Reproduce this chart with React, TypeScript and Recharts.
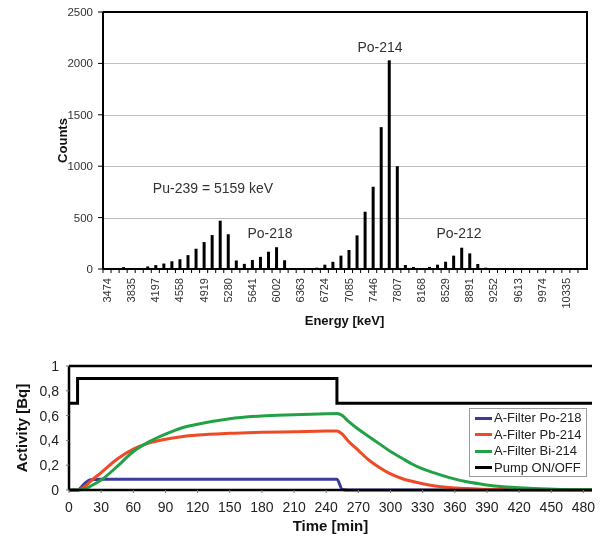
import {
  BarChart,
  Bar,
  LineChart,
  Line,
  XAxis,
  YAxis,
  ReferenceLine,
  Legend,
  Label,
} from 'recharts';

const FONT = '"Liberation Sans", Arial, sans-serif';

// --- alpha spectrum (top) ---
const energyTickLabels = [
  '3474', '3835', '4197', '4558', '4919', '5280', '5641', '6002', '6363', '6724',
  '7085', '7446', '7807', '8168', '8529', '8891', '9252', '9613', '9974', '10335',
];

// one bin every third of a labelled step (60 bins)
const spectrumCounts = [
  0, 0, 18, 10, 10, 25, 38, 53, 75, 95,
  135, 197, 262, 330, 470, 338, 83, 50, 88, 118,
  168, 212, 85, 0, 3, 3, 13, 42, 70, 130,
  185, 327, 557, 800, 1380, 2030, 1000, 39, 20, 10,
  20, 42, 71, 130, 207, 152, 49, 13, 0, 0,
  0, 0, 0, 0, 0, 0, 0, 0, 0, 0,
];

const countTicks = [0, 500, 1000, 1500, 2000, 2500];
const COUNT_MAX = 2500;

const spectrumRows = spectrumCounts.map((c, i) => ({ bin: i, counts: c }));

// --- filter activity (bottom) ---
const timeMin = [
  0, 8, 10, 15, 20, 30, 45, 60, 75, 90, 105, 120, 150, 180, 210, 240, 250, 255,
  260, 270, 280, 290, 300, 310, 320, 330, 340, 355, 370, 385, 400, 420, 440, 460, 488,
];
const po218 = [
  0, 0, 0.01, 0.055, 0.082, 0.087, 0.087, 0.087, 0.087, 0.087, 0.087, 0.087, 0.087, 0.087, 0.087, 0.087, 0.087, 0.004,
  0, 0, 0, 0, 0, 0, 0, 0, 0, 0, 0, 0, 0, 0, 0, 0, 0,
];
const pb214 = [
  0, 0, 0.005, 0.03, 0.07, 0.14, 0.25, 0.33, 0.38, 0.41, 0.43, 0.443, 0.457, 0.465, 0.47, 0.475, 0.476, 0.45,
  0.4, 0.32, 0.24, 0.18, 0.13, 0.095, 0.07, 0.05, 0.035, 0.02, 0.012, 0.007, 0.004, 0.002, 0.001, 0, 0,
];
const bi214 = [
  0, 0, 0.002, 0.01, 0.03, 0.08, 0.19, 0.31, 0.39, 0.45, 0.5, 0.53, 0.575, 0.597, 0.607, 0.615, 0.617, 0.6,
  0.56, 0.49, 0.43, 0.37, 0.31, 0.26, 0.21, 0.17, 0.14, 0.1, 0.068, 0.047, 0.03, 0.018, 0.01, 0.005, 0.002,
];
const pumpOnOff = [
  0.7, 0.9, 0.9, 0.9, 0.9, 0.9, 0.9, 0.9, 0.9, 0.9, 0.9, 0.9, 0.9, 0.9, 0.9, 0.9, 0.7, 0.7,
  0.7, 0.7, 0.7, 0.7, 0.7, 0.7, 0.7, 0.7, 0.7, 0.7, 0.7, 0.7, 0.7, 0.7, 0.7, 0.7, 0.7,
];

const timeTicks = [0, 30, 60, 90, 120, 150, 180, 210, 240, 270, 300, 330, 360, 390, 420, 450, 480];
const activityTicks = [0, 0.2, 0.4, 0.6, 0.8, 1];

const activityRows = timeMin.map((t, i) => ({
  t,
  po218: po218[i],
  pb214: pb214[i],
  bi214: bi214[i],
  pump: pumpOnOff[i],
}));

const legendItems = [
  { name: 'A-Filter Po-218', color: '#3b3b9c' },
  { name: 'A-Filter Pb-214', color: '#ee4a26' },
  { name: 'A-Filter Bi-214', color: '#21a246' },
  { name: 'Pump ON/OFF', color: '#000000' },
];

const annotations = [
  { text: 'Po-214', x: 380, y: 47 },
  { text: 'Pu-239 = 5159 keV', x: 213, y: 188 },
  { text: 'Po-218', x: 270, y: 233 },
  { text: 'Po-212', x: 459, y: 233 },
];

// top plot box (matches BarChart margins below)
const TOP_W = 603;
const TOP_H = 340;
const TOP_MARGIN = { top: 12, right: 17, bottom: 31, left: 43 };
const TOP_YAXIS_W = 60;
const TOP_XAXIS_H = 40;
const plotLeft = TOP_MARGIN.left + TOP_YAXIS_W;
const plotTop = TOP_MARGIN.top;
const plotW = TOP_W - plotLeft - TOP_MARGIN.right;
const plotH = TOP_H - TOP_MARGIN.top - TOP_MARGIN.bottom - TOP_XAXIS_H;

function EnergyTick(props: any) {
  const { x, y, payload } = props;
  const i = Number(payload.value);
  const half = payload.offset ?? 4;
  return (
    <g>
      <line x1={x - half} y1={y} x2={x - half} y2={y + 4} stroke="#000" strokeWidth={1} />
      {i % 3 === 0 && (
        <text
          x={x}
          y={y + 9}
          transform={`rotate(-90 ${x} ${y + 9})`}
          textAnchor="end"
          dominantBaseline="central"
          fontSize={11}
          fontFamily={FONT}
          fill="#333"
        >
          {energyTickLabels[i / 3]}
        </text>
      )}
    </g>
  );
}

function ActivityLegend() {
  return (
    <div
      style={{
        width: 118,
        height: 69,
        boxSizing: 'border-box',
        border: '1px solid #9a9a9a',
        background: '#fff',
        padding: '1px 0 0 5px',
        fontFamily: FONT,
        fontSize: 13,
        lineHeight: '16.5px',
        color: '#222',
        textAlign: 'left',
      }}
    >
      {legendItems.map((it) => (
        <div key={it.name} style={{ display: 'flex', alignItems: 'center', height: 16.5 }}>
          <span style={{ display: 'inline-block', width: 17, height: 3, background: it.color, marginRight: 2 }} />
          <span style={{ whiteSpace: 'nowrap' }}>{it.name}</span>
        </div>
      ))}
    </div>
  );
}

export default function App() {
  return (
    <div style={{ position: 'absolute', left: 0, top: 0, width: 603, height: 539, background: '#fff', fontFamily: FONT }}>
      <div style={{ position: 'absolute', left: 0, top: 0, zIndex: 1 }}>
        <BarChart width={TOP_W} height={TOP_H} data={spectrumRows} margin={TOP_MARGIN} barSize={3}>
          <XAxis
            dataKey="bin"
            interval={0}
            tickSize={0}
            tickMargin={0}
            tick={<EnergyTick />}
            axisLine={{ stroke: '#000', strokeWidth: 2 }}
            height={TOP_XAXIS_H}
          >
            <Label
              value="Energy [keV]"
              position="bottom"
              offset={7}
              style={{ fontSize: 13, fontWeight: 'bold', fill: '#111', fontFamily: FONT }}
            />
          </XAxis>
          <YAxis
            yAxisId="counts"
            domain={[0, COUNT_MAX]}
            ticks={countTicks}
            width={TOP_YAXIS_W}
            tickSize={5}
            tickMargin={5}
            axisLine={{ stroke: '#000', strokeWidth: 2 }}
            tickLine={{ stroke: '#000' }}
            tick={{ fontSize: 11.5, fill: '#333', fontFamily: FONT }}
          >
            <Label
              value="Counts"
              angle={-90}
              position="insideLeft"
              offset={19}
              style={{ textAnchor: 'middle', fontSize: 13, fontWeight: 'bold', fill: '#111', fontFamily: FONT }}
            />
          </YAxis>
          <Bar yAxisId="counts" dataKey="counts" fill="#000" isAnimationActive={false} />
        </BarChart>
      </div>

      {/* plot frame + gridlines, multiplied over the spectrum so bars stay black */}
      <div
        style={{
          position: 'absolute',
          left: plotLeft,
          top: plotTop - 1,
          width: plotW,
          height: plotH,
          boxSizing: 'content-box',
          borderTop: '2px solid #000',
          borderRight: '2px solid #000',
          zIndex: 3,
          pointerEvents: 'none',
          mixBlendMode: 'multiply',
        }}
      >
        {countTicks
          .filter((v) => v > 0 && v < COUNT_MAX)
          .map((v) => (
            <div
              key={v}
              style={{
                position: 'absolute',
                left: 0,
                right: 0,
                top: plotH * (1 - v / COUNT_MAX) - 1,
                height: 1,
                background: '#bdbdbd',
              }}
            />
          ))}
      </div>

      {annotations.map((a) => (
        <div
          key={a.text}
          style={{
            position: 'absolute',
            left: a.x,
            top: a.y,
            transform: 'translate(-50%, -50%)',
            fontSize: 14,
            lineHeight: 1,
            color: '#333',
            whiteSpace: 'nowrap',
            zIndex: 4,
          }}
        >
          {a.text}
        </div>
      ))}

      <div style={{ position: 'absolute', left: 0, top: 340, zIndex: 1 }}>
        <LineChart
          width={603}
          height={199}
          data={activityRows}
          margin={{ top: 26, right: 11, bottom: 19, left: 0 }}
        >
          <XAxis
            type="number"
            dataKey="t"
            domain={[0, 488]}
            ticks={timeTicks}
            height={30}
            tickSize={3}
            tickMargin={9}
            axisLine={{ stroke: '#000', strokeWidth: 2.5 }}
            tickLine={{ stroke: '#777' }}
            tick={{ fontSize: 14, fill: '#222', fontFamily: FONT }}
          >
            <Label
              value="Time [min]"
              position="bottom"
              offset={0}
              style={{ fontSize: 15, fontWeight: 'bold', fill: '#111', fontFamily: FONT }}
            />
          </XAxis>
          <YAxis
            yAxisId="act"
            domain={[0, 1]}
            ticks={activityTicks}
            width={69}
            tickSize={3}
            tickMargin={7}
            tickFormatter={(v) => String(v).replace('.', ',')}
            axisLine={{ stroke: '#000', strokeWidth: 2.5 }}
            tickLine={{ stroke: '#777' }}
            tick={{ fontSize: 14, fill: '#222', fontFamily: FONT }}
          >
            <Label
              value="Activity [Bq]"
              angle={-90}
              position="insideLeft"
              offset={22}
              style={{ textAnchor: 'middle', fontSize: 15, fontWeight: 'bold', fill: '#111', fontFamily: FONT }}
            />
          </YAxis>
          <YAxis
            yAxisId="frame"
            orientation="right"
            domain={[0, 1]}
            width={0}
            tick={false}
            tickLine={false}
            axisLine={{ stroke: '#000', strokeWidth: 2.5 }}
          />
          <ReferenceLine yAxisId="act" y={1} stroke="#000" strokeWidth={2.5} />
          <Legend
            layout="horizontal"
            align="center"
            verticalAlign="middle"
            content={<ActivityLegend />}
            wrapperStyle={{ position: 'absolute', left: 469, top: 68, width: 118, height: 69 }}
          />
          <Line yAxisId="act" type="monotone" dataKey="po218" name="A-Filter Po-218" stroke="#3b3b9c" strokeWidth={3} dot={false} isAnimationActive={false} />
          <Line yAxisId="act" type="monotone" dataKey="pb214" name="A-Filter Pb-214" stroke="#ee4a26" strokeWidth={3} dot={false} isAnimationActive={false} />
          <Line yAxisId="act" type="monotone" dataKey="bi214" name="A-Filter Bi-214" stroke="#21a246" strokeWidth={3} dot={false} isAnimationActive={false} />
          <Line yAxisId="act" type="stepAfter" dataKey="pump" name="Pump ON/OFF" stroke="#000" strokeWidth={3} dot={false} isAnimationActive={false} />
        </LineChart>
      </div>
    </div>
  );
}
